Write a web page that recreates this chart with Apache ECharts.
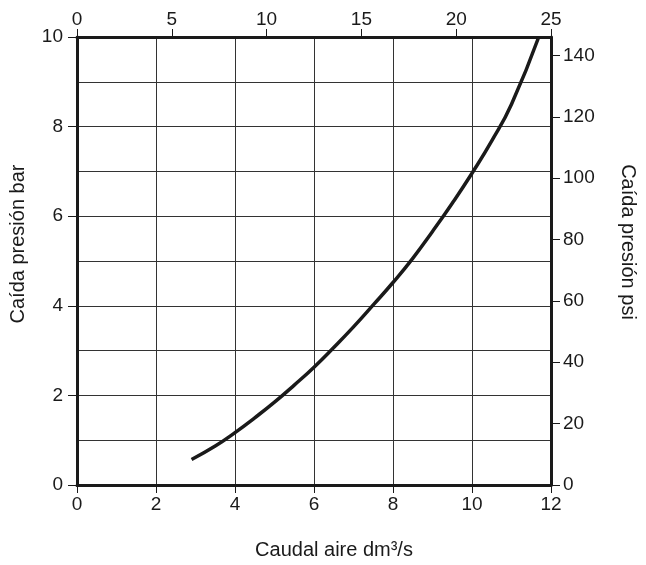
<!DOCTYPE html>
<html>
<head>
<meta charset="utf-8">
<script src="https://cdn.jsdelivr.net/npm/echarts@6/dist/echarts.min.js"></script>
<style>
html,body{margin:0;padding:0;background:#fff;}
#c{width:646px;height:565px;}
</style>
</head>
<body>
<div id="c"></div>
<script>
// Data (x: dm³/s, y: bar)
const flowDm3s = [2.9, 3.5, 4.0, 4.5, 5.0, 5.5, 6.0, 6.5, 7.0, 7.5, 8.0, 8.5, 9.0, 9.5, 10.0, 10.5, 11.0, 11.69];
const dropBar  = [0.57, 0.87, 1.17, 1.5, 1.85, 2.23, 2.63, 3.07, 3.53, 4.02, 4.52, 5.06, 5.66, 6.29, 6.96, 7.68, 8.5, 10.0];
const psiTicks = [0, 20, 40, 60, 80, 100, 120, 140];

const FONT = 'Liberation Sans, Arial, Helvetica, sans-serif';
const TXT = '#1a1a1a';
const frame = { show: true, onZero: false, lineStyle: { color: '#1a1a1a', width: 3 } };
const tick = (len) => ({ show: true, inside: false, length: len, lineStyle: { color: '#1a1a1a', width: 1 } });
const lab = (m) => ({ color: TXT, fontFamily: FONT, fontSize: 19, margin: m });
const nameStyle = (pad) => ({ color: TXT, fontFamily: FONT, fontSize: 20, padding: pad });

const chart = echarts.init(document.getElementById('c'), null, { renderer: 'canvas' });
chart.setOption({
  animation: false,
  backgroundColor: '#fff',
  grid: { left: 77, right: 88, top: 37, bottom: 78, containLabel: false },
  xAxis: [
    {
      type: 'value', position: 'bottom', min: 0, max: 12, interval: 2,
      axisLine: frame, axisTick: tick(8), axisLabel: lab(10),
      splitLine: { show: true, lineStyle: { color: '#333', width: 1 } },
      name: 'Caudal aire dm³/s', nameLocation: 'middle', nameGap: 55,
      nameTextStyle: nameStyle([0, 0, 0, 40])
    },
    {
      type: 'value', position: 'top', min: 0, max: 25, interval: 5,
      axisLine: frame, axisTick: tick(8), axisLabel: lab(8),
      splitLine: { show: false }
    }
  ],
  yAxis: [
    {
      type: 'value', position: 'left', min: 0, max: 10, interval: 2,
      axisLine: frame, axisTick: tick(9), axisLabel: lab(14),
      splitLine: { show: false },
      name: 'Caída presión bar', nameLocation: 'middle', nameGap: 49,
      nameTextStyle: nameStyle([0, 0, 0, 34])
    },
    {
      type: 'value', position: 'right', min: 0, max: 146,
      axisLine: frame,
      axisTick: Object.assign(tick(9), { customValues: psiTicks }),
      axisLabel: Object.assign(lab(12), { customValues: psiTicks }),
      splitLine: { show: false },
      name: 'Caída presión psi', nameLocation: 'middle', nameGap: 67, nameRotate: -90,
      nameTextStyle: nameStyle([0, 38, 0, 0])
    },
    {
      type: 'value', position: 'left', min: 0, max: 10, interval: 1,
      axisLine: { show: false, onZero: false }, axisTick: { show: false }, axisLabel: { show: false },
      splitLine: { show: true, lineStyle: { color: '#333', width: 1 } }
    }
  ],
  series: [{
    type: 'line',
    xAxisIndex: 0, yAxisIndex: 0,
    data: flowDm3s.map((x, i) => [x, dropBar[i]]),
    smooth: true,
    showSymbol: false, symbol: 'none',
    lineStyle: { color: '#1a1a1a', width: 3.5, cap: 'butt' },
    z: 5
  }]
});
</script>
</body>
</html>
